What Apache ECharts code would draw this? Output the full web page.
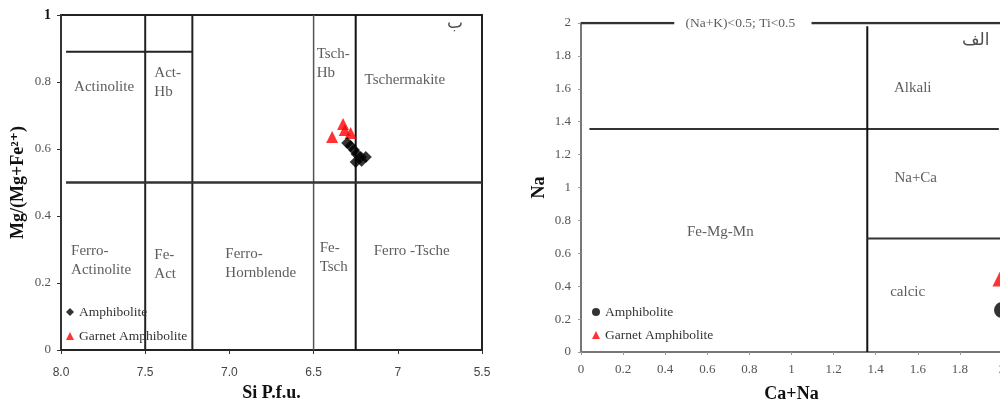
<!DOCTYPE html>
<html><head><meta charset="utf-8">
<script src="https://cdn.jsdelivr.net/npm/echarts@6/dist/echarts.min.js"></script>
<style>html,body{margin:0;padding:0;background:#fff}#c{width:1000px;height:401px}</style>
</head><body><div id="c"></div>
<script>
// ---------- data ----------
// Left diagram: Si p.f.u. vs Mg/(Mg+Fe2+)
const leftAmphiboliteSi = [6.30, 6.28, 6.26, 6.245, 6.22, 6.19, 6.25, 6.215];
const leftAmphiboliteMg = [0.618, 0.609, 0.597, 0.585, 0.576, 0.576, 0.561, 0.565];
const leftGarnetSi = [6.39, 6.325, 6.315, 6.28];
const leftGarnetMg = [0.636, 0.675, 0.657, 0.648];
const leftXTicks = [8.0, 7.5, 7.0, 6.5, 6.0, 5.5];
const leftXTickLabels = ['8.0', '7.5', '7.0', '6.5', '7', '5.5'];
// Right diagram: Ca+Na vs Na
const rightAmphiboliteCaNa = [2.0];
const rightAmphiboliteNa = [0.255];
const rightGarnetCaNa = [1.995];
const rightGarnetNa = [0.45];
// boundary segments (data units)
const leftBoundaries = [
  [[7.5, 0], [7.5, 1]],
  [[7.22, 0], [7.22, 1]],
  [[6.5, 0], [6.5, 1]],
  [[6.25, 0], [6.25, 1]],
  [[7.97, 0.5], [5.5, 0.5]],
  [[7.97, 0.89], [7.22, 0.89]]
];
const rightBoundaries = [
  [[0, 2], [0.443, 2]],
  [[1.095, 2], [2, 2]],
  [[0.04, 1.355], [1.985, 1.355]],
  [[1.36, 0], [1.36, 1.98]],
  [[1.36, 0.69], [2, 0.69]]
];
const leftRegionLabels = [
  ['Actinolite', 7.744, 0.785, 'center'],
  ['Act-\nHb', 7.446, 0.797, 'left'],
  ['Tsch-\nHb', 6.482, 0.854, 'left'],
  ['Tschermakite', 5.958, 0.806, 'center'],
  ['Ferro-\nActinolite', 7.94, 0.266, 'left'],
  ['Fe-\nAct', 7.446, 0.254, 'left'],
  ['Ferro-\nHornblende', 7.024, 0.257, 'left'],
  ['Fe-\nTsch', 6.464, 0.275, 'left'],
  ['Ferro -Tsche', 6.143, 0.296, 'left']
];
const rightRegionLabels = [
  ['Alkali', 1.576, 1.605, 'center'],
  ['Na+Ca', 1.59, 1.058, 'center'],
  ['Fe-Mg-Mn', 0.662, 0.73, 'center'],
  ['calcic', 1.552, 0.365, 'center']
];
const leftTitle = 'ب';
const rightTitle = 'الف';
const rightNote = '(Na+K)<0.5; Ti<0.5';

// ---------- chart ----------
const SERIF = '"Liberation Serif","DejaVu Serif",serif';
const chart = echarts.init(document.getElementById('c'));

const zip = (a, b) => a.map((v, i) => [v, b[i]]);

const lineStylesLeft = [
  {color: '#222', width: 2},
  {color: '#222', width: 2},
  {color: '#555', width: 1.5},
  {color: '#111', width: 2},
  {color: '#333', width: 2.5},
  {color: '#222', width: 2}
];
const lineStylesRight = [
  {color: '#333', width: 2.5},
  {color: '#333', width: 2.5},
  {color: '#333', width: 2},
  {color: '#111', width: 2},
  {color: '#333', width: 2}
];

const series = [];
leftBoundaries.forEach((seg, i) => series.push({
  type: 'line', xAxisIndex: 0, yAxisIndex: 0, data: seg, symbol: 'none',
  lineStyle: lineStylesLeft[i], silent: true, z: 1, animation: false
}));
rightBoundaries.forEach((seg, i) => series.push({
  type: 'line', xAxisIndex: 1, yAxisIndex: 1, data: seg, symbol: 'none',
  lineStyle: lineStylesRight[i], silent: true, z: 1, animation: false
}));

const labelSeries = (arr, idx) => ({
  type: 'scatter', xAxisIndex: idx, yAxisIndex: idx, symbolSize: 0, silent: true, z: 3,
  data: arr.map(l => ({
    value: [l[1], l[2]],
    label: {show: true, position: 'inside', formatter: l[0], align: l[3],
      verticalAlign: 'middle', fontFamily: SERIF, fontSize: 15, color: '#333', lineHeight: 19}
  }))
});
series.push(labelSeries(leftRegionLabels, 0));
series.push(labelSeries(rightRegionLabels, 1));
series.push({
  type: 'scatter', xAxisIndex: 0, yAxisIndex: 0, symbolSize: 0, silent: true,
  data: [{value: [5.66, 0.973], label: {show: true, position: 'inside', formatter: leftTitle,
    fontFamily: '"DejaVu Sans",sans-serif', fontSize: 17, color: '#222'}}]
});
series.push({
  type: 'scatter', xAxisIndex: 1, yAxisIndex: 1, symbolSize: 0, silent: true,
  data: [
    {value: [1.875, 1.895], label: {show: true, position: 'inside', formatter: rightTitle,
      fontFamily: '"DejaVu Sans",sans-serif', fontSize: 17, color: '#222'}},
    {value: [0.757, 2.0], label: {show: true, position: 'inside', formatter: rightNote,
      fontFamily: SERIF, fontSize: 13.5, color: '#333'}}
  ]
});

series.push({
  name: 'Garnet Amphibolite', type: 'scatter', xAxisIndex: 0, yAxisIndex: 0,
  symbol: 'triangle', symbolSize: 12, itemStyle: {color: '#ff0000'},
  data: zip(leftGarnetSi, leftGarnetMg), z: 5
});
series.push({
  name: 'Amphibolite', type: 'scatter', xAxisIndex: 0, yAxisIndex: 0,
  symbol: 'diamond', symbolSize: 12, itemStyle: {color: '#000'},
  data: zip(leftAmphiboliteSi, leftAmphiboliteMg), z: 6
});
series.push({
  name: 'Garnet Amphibolite', type: 'scatter', xAxisIndex: 1, yAxisIndex: 1, clip: false,
  symbol: 'triangle', symbolSize: 17, itemStyle: {color: '#ff0000'},
  data: zip(rightGarnetCaNa, rightGarnetNa), z: 5
});
series.push({
  name: 'Amphibolite', type: 'scatter', xAxisIndex: 1, yAxisIndex: 1, clip: false,
  symbol: 'circle', symbolSize: 16, itemStyle: {color: '#000'},
  data: zip(rightAmphiboliteCaNa, rightAmphiboliteNa), z: 6
});

const tickLabelStyle = {fontFamily: SERIF, fontSize: 13, color: '#555'};
const legendText = {fontFamily: SERIF, fontSize: 13.5, color: '#333'};
const titleStyle = {fontFamily: SERIF, fontSize: 18, fontWeight: 'bold', color: '#111'};

chart.setOption({
  animation: false,
  grid: [
    {left: 61, top: 15, width: 421, height: 335, show: true, borderColor: '#222', borderWidth: 2,
      backgroundColor: 'transparent', outerBoundsMode: 'none', containLabel: false},
    {left: 581, top: 23, width: 421, height: 329, outerBoundsMode: 'none', containLabel: false}
  ],
  legend: [
    {left: 66, top: 305, orient: 'vertical', itemGap: 10, itemWidth: 8, itemHeight: 8,
      textStyle: legendText, selectedMode: false, padding: 0,
      data: [{name: 'Amphibolite', icon: 'diamond'}, {name: 'Garnet Amphibolite', icon: 'triangle'}]},
    {left: 592, top: 305, orient: 'vertical', itemGap: 9, itemWidth: 8, itemHeight: 8,
      textStyle: legendText, selectedMode: false, padding: 0,
      data: [{name: 'Amphibolite', icon: 'circle'}, {name: 'Garnet Amphibolite', icon: 'triangle'}]}
  ],
  xAxis: [
    {gridIndex: 0, type: 'value', min: 5.5, max: 8, interval: 0.5, inverse: true,
      name: 'Si P.f.u.', nameLocation: 'middle', nameGap: 34, nameTextStyle: titleStyle,
      axisLine: {show: true, lineStyle: {color: '#222', width: 2}},
      axisTick: {show: true, length: 4, lineStyle: {color: '#333'}},
      splitLine: {show: false},
      axisLabel: {margin: 17, fontFamily: '"Liberation Sans",Arial,sans-serif', fontSize: 12, color: '#444',
        formatter: v => { const i = leftXTicks.findIndex(t => Math.abs(t - v) < 1e-6); return i >= 0 ? leftXTickLabels[i] : ''; }}},
    {gridIndex: 1, type: 'value', min: 0, max: 2, interval: 0.2,
      name: 'Ca+Na', nameLocation: 'middle', nameGap: 33, nameTextStyle: titleStyle,
      axisLine: {show: true, lineStyle: {color: '#777', width: 2}},
      axisTick: {show: true, length: 3, lineStyle: {color: '#999'}},
      splitLine: {show: false},
      axisLabel: Object.assign({margin: 11}, tickLabelStyle)}
  ],
  yAxis: [
    {gridIndex: 0, type: 'value', min: 0, max: 1, interval: 0.2,
      name: 'Mg/(Mg+Fe²⁺)', nameLocation: 'middle', nameGap: 34, nameRotate: 90, nameTextStyle: titleStyle,
      axisLine: {show: true, lineStyle: {color: '#333', width: 2}},
      axisTick: {show: true, length: 4, lineStyle: {color: '#333'}},
      splitLine: {show: false},
      axisLabel: {margin: 10, fontFamily: SERIF, fontSize: 13, color: '#555',
        formatter: v => v === 1 ? '{b|1}' : String(v),
        rich: {b: {fontFamily: SERIF, fontSize: 14, fontWeight: 'bold', color: '#111'}}}},
    {gridIndex: 1, type: 'value', min: 0, max: 2, interval: 0.2,
      name: 'Na', nameLocation: 'middle', nameGap: 33, nameRotate: 90, nameTextStyle: titleStyle,
      axisLine: {show: true, lineStyle: {color: '#777', width: 2}},
      axisTick: {show: true, length: 3, lineStyle: {color: '#999'}},
      splitLine: {show: false},
      axisLabel: Object.assign({margin: 10}, tickLabelStyle)}
  ],
  series: series
});
</script></body></html>
